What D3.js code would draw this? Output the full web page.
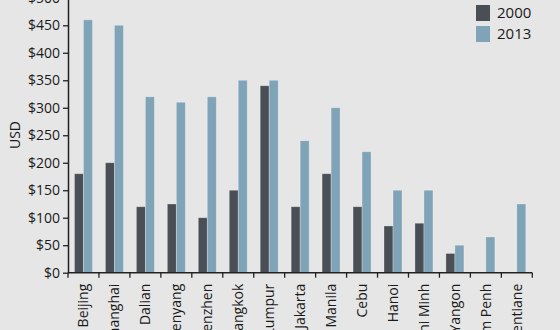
<!DOCTYPE html>
<html>
<head>
<meta charset="utf-8">
<script src="https://cdn.jsdelivr.net/npm/d3@7"></script>
<style>
  body { margin: 0; background: #e6e6e6; }
  svg { display: block; font-family: "Open Sans", sans-serif; }
</style>
</head>
<body>
<div id="chart"></div>
<script>
const cities = ["Beijing", "Shanghai", "Dalian", "Shenyang", "Shenzhen", "Bangkok", "Kuala Lumpur",
  "Jakarta", "Manila", "Cebu", "Hanoi", "Ho Chi Minh", "Yangon", "Phnom Penh", "Vientiane"];
const seriesNames = ["2000", "2013"];
const values2000 = [180, 200, 120, 125, 100, 150, 340, 120, 180, 120, 85, 90, 35, null, null];
const values2013 = [460, 450, 320, 310, 320, 350, 350, 240, 300, 220, 150, 150, 50, 65, 125];
const yTicks = [0, 50, 100, 150, 200, 250, 300, 350, 400, 450, 500];
const colors = ["#4a4f56", "#7fa3b7"];

(() => {
  const width = 560, height = 330;
  const left = 68, right = 532.3, bottom = 272.7, top = -2.2;

  const svg = d3.select("#chart").append("svg")
    .attr("width", width)
    .attr("height", height);

  const x0 = d3.scaleBand().domain(cities).range([left, right]).padding(0);
  const x1 = d3.scaleBand().domain(seriesNames).range([0, 18]);
  const y = d3.scaleLinear().domain([0, 500]).range([bottom, top]);

  const rows = cities.map((c, i) => ({ city: c, vals: [values2000[i], values2013[i]] }));

  // bars
  const groups = svg.append("g").selectAll("g")
    .data(rows)
    .enter().append("g")
    .attr("transform", d => `translate(${x0(d.city) + x0.bandwidth() / 2 - 9},0)`);

  groups.selectAll("rect")
    .data(d => d.vals.map((v, i) => ({ key: seriesNames[i], v: v, i: i })).filter(d => d.v != null))
    .enter().append("rect")
    .attr("x", d => x1(d.key))
    .attr("width", x1.bandwidth())
    .attr("y", d => y(d.v))
    .attr("height", d => bottom - y(d.v))
    .attr("fill", d => colors[d.i])
    .attr("stroke", "rgba(255,255,255,0.35)")
    .attr("stroke-width", 0.8);

  // y axis
  const yAxis = svg.append("g")
    .attr("transform", `translate(${left},0)`)
    .call(d3.axisLeft(y).tickValues(yTicks).tickFormat(d => "$" + d).tickSize(5).tickPadding(3).tickSizeOuter(0));
  yAxis.select(".domain").attr("stroke", "#222").attr("stroke-width", 1.5);
  yAxis.selectAll(".tick line").attr("stroke", "#222").attr("stroke-width", 1.3);
  yAxis.selectAll("text").attr("font-size", 14).attr("fill", "#1a1a1a").attr("font-family", "Open Sans");

  // x axis
  const xAxis = svg.append("g")
    .attr("transform", `translate(0,${bottom})`);
  xAxis.append("line")
    .attr("x1", left).attr("x2", right)
    .attr("stroke", "#222").attr("stroke-width", 1.5);
  const edges = cities.map(c => x0(c)).concat([right]);
  xAxis.selectAll(".edge")
    .data(edges)
    .enter().append("line")
    .attr("x1", d => d).attr("x2", d => d)
    .attr("y1", 0).attr("y2", 5)
    .attr("stroke", "#222").attr("stroke-width", 1.3);
  xAxis.selectAll(".lbl")
    .data(cities)
    .enter().append("text")
    .attr("transform", d => `translate(${x0(d) + x0.bandwidth() / 2},11) rotate(-90)`)
    .attr("dy", "0.35em")
    .attr("text-anchor", "end")
    .attr("font-size", 14)
    .attr("fill", "#1a1a1a")
    .text(d => d);

  // y axis title
  svg.append("text")
    .attr("transform", "translate(15,135) rotate(-90)")
    .attr("dy", "0.35em")
    .attr("text-anchor", "middle")
    .attr("font-size", 14)
    .attr("fill", "#1a1a1a")
    .text("USD");

  // legend
  const legend = svg.append("g").attr("transform", "translate(476,5)");
  seriesNames.forEach((s, i) => {
    legend.append("rect")
      .attr("x", 0).attr("y", i * 21)
      .attr("width", 14).attr("height", 16)
      .attr("fill", colors[i]);
    legend.append("text")
      .attr("x", 21).attr("y", i * 21 + 8)
      .attr("dy", "0.35em")
      .attr("font-size", 15)
      .attr("fill", "#1a1a1a")
      .text(s);
  });
})();
</script>
</body>
</html>
